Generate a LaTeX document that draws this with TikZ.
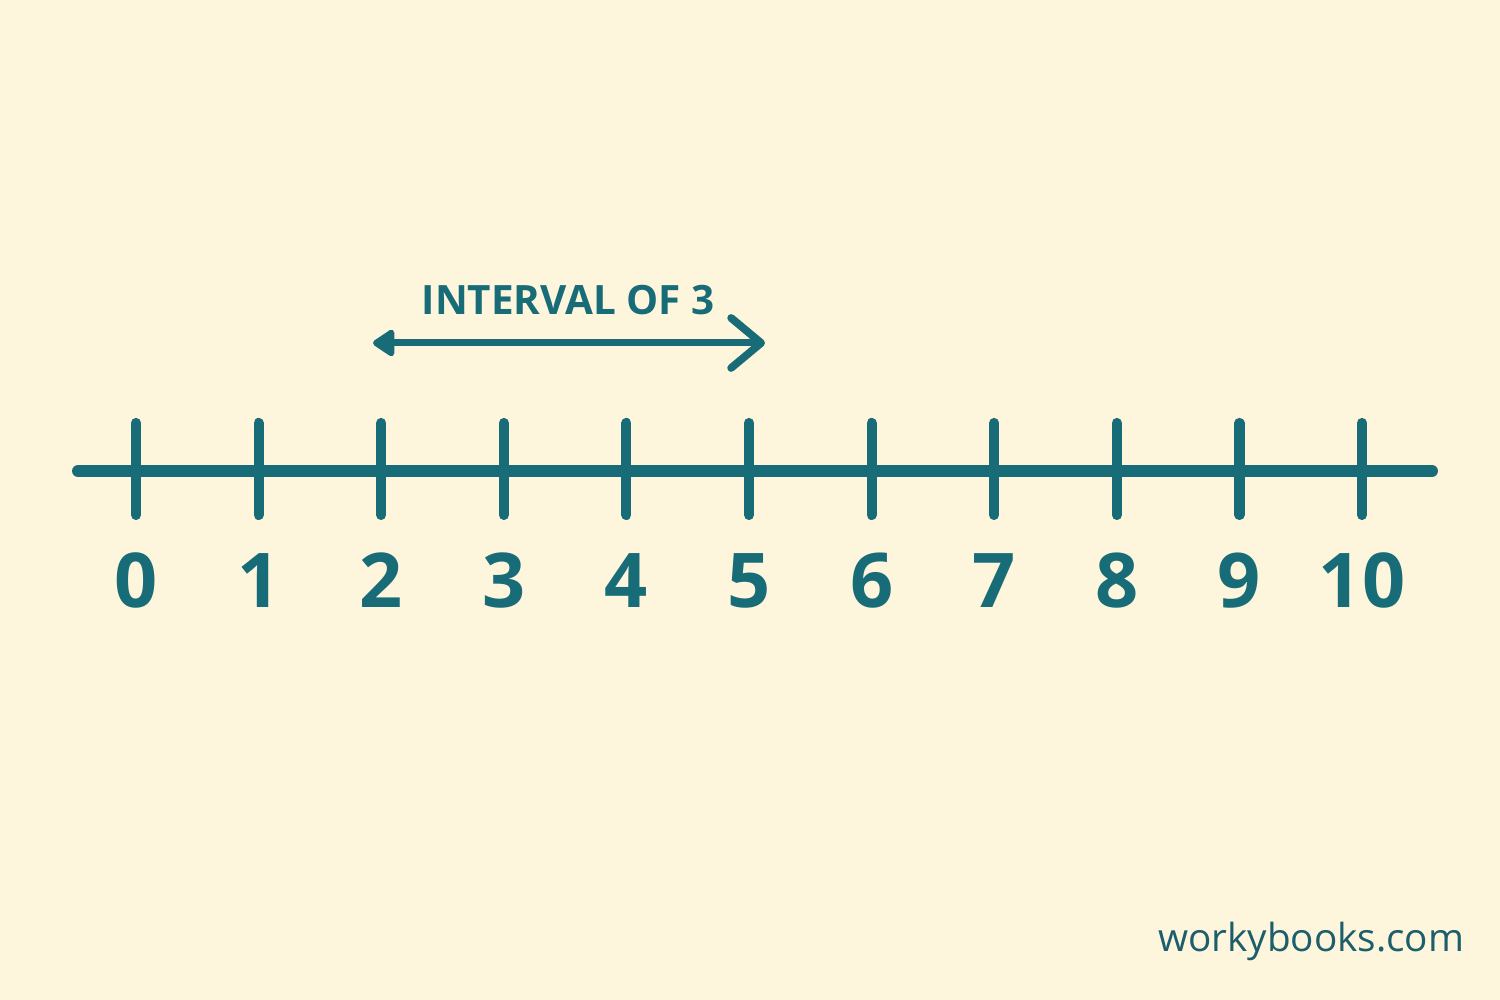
\documentclass[tikz,border=0pt]{standalone}
\usepackage{fontspec}
\setmainfont{Open Sans}
\usetikzlibrary{arrows.meta}
\definecolor{paper}{RGB}{253,246,220}
\definecolor{teal}{RGB}{24,108,120}
\definecolor{site}{RGB}{28,94,108}

\begin{document}
\begin{tikzpicture}[line cap=round,
		tick/.style={draw=teal, line width=2.9pt},
		num/.style={text=teal, anchor=base, font=\fontsize{21.5}{24}\selectfont\bfseries, inner sep=0pt}]
		\fill[paper] (0,0) rectangle (15,10);
		\useasboundingbox (0,0) rectangle (15,10);
		\coordinate (a) at (0.78,5.29);
		\coordinate (b) at (14.32,5.29);
		\draw[teal, line width=3.4pt] (a) -- (b); % Number line.

		\foreach \i in {0,...,10}{
			\coordinate (u\i) at ({1.36+1.226*\i},5.77);
			\coordinate (d\i) at ({1.36+1.226*\i},4.85);
			\draw[tick] (u\i) -- (d\i);
			\node[num] (n\i) at ({1.36+1.226*\i},3.92) {\i};
		}

		\coordinate (l) at (3.73,6.57);
		\coordinate (r) at (7.65,6.57);
		\draw[teal, line width=2pt, {Triangle[length=0.24cm, width=0.3cm, round]}-{Straight Barb[length=0.3cm, width=0.5cm, round, line width=2.2pt]}] (l) -- (r);
		\node[anchor=base, text=teal, inner sep=0pt, font=\fontsize{11.5}{14}\selectfont\bfseries] (t) at (5.68,6.85) {INTERVAL OF 3};

		\node[anchor=base east, text=site, font=\fontsize{11}{13}\selectfont, inner sep=0pt] (w) at (14.65,0.48) {workybooks.com};
	\end{tikzpicture}
\end{document}
